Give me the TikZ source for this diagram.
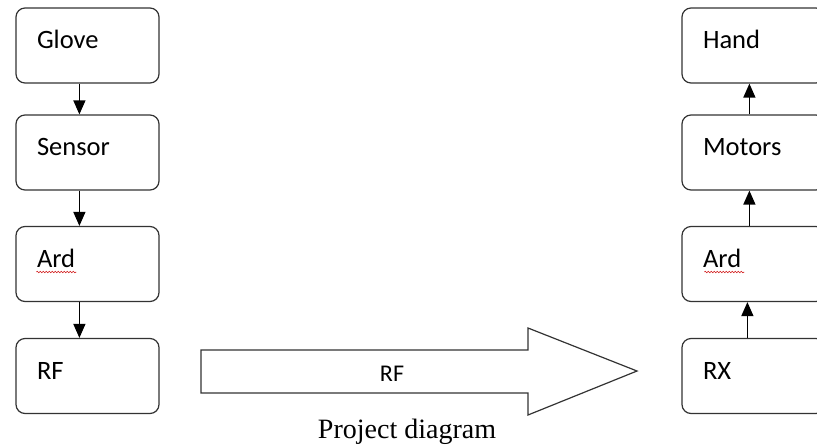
\documentclass[tikz,border=0pt]{standalone}
\usepackage{fontspec}
\setmainfont{Carlito}
\newfontfamily\capfont{Liberation Serif}
\usetikzlibrary{decorations.pathmorphing, arrows.meta}

\begin{document}
\begin{tikzpicture}[x=1pt, y=-1pt, >={Triangle[length=14pt,width=12pt]},
    block/.style={draw=black!80, line width=1.2pt, rounded corners=9pt,
      minimum width=143pt, minimum height=75pt, text width=101pt, inner xsep=21pt,
      align=left, text height=19pt, text depth=13pt, font=\fontsize{26.5}{30}\selectfont},
    flow/.style={->, line width=1.4pt},
    squig/.style={red!80!black, line width=0.5pt, decorate,
      decoration={snake, segment length=3pt, amplitude=0.8pt}}]
  \clip (0,0) rectangle (817,445);
  % transmitter side
  \node[block] (glove) at (87.5,45.5) {Glove};
  \node[block] (sensor) at (87.5,152.5) {Sensor};
  \node[block] (ardL) at (87.5,264) {Ard};
  \node[block] (rfL) at (87.5,376) {RF};
  \draw[flow] ([xshift=64pt]glove.south west) -- ([xshift=64pt]sensor.north west);
  \draw[flow] ([xshift=64pt]sensor.south west) -- ([xshift=64pt]ardL.north west);
  \draw[flow] ([xshift=64pt]ardL.south west) -- ([xshift=64pt]rfL.north west);
  \draw[squig] ([xshift=21pt,yshift=-8pt]ardL.west) -- ++(40,0);
  % receiver side
  \node[block] (hand) at (753.5,45.5) {Hand};
  \node[block] (motors) at (753.5,152.5) {Motors};
  \node[block] (ardR) at (753.5,264) {Ard};
  \node[block] (rx) at (753.5,376) {RX};
  \draw[flow] ([xshift=66pt]rx.north west) -- ([xshift=66pt]ardR.south west);
  \draw[flow] ([xshift=68pt]ardR.north west) -- ([xshift=68pt]motors.south west);
  \draw[flow] ([xshift=68pt]motors.north west) -- ([xshift=68pt]hand.south west);
  \draw[squig] ([xshift=23pt,yshift=-8pt]ardR.west) -- ++(40,0);
  % radio link
  \draw[black!80, line width=1.2pt] (201,350) -- (528,350) -- (528,328) -- (637,371)
    -- (528,415) -- (528,393) -- (201,393) -- cycle;
  \node[font=\fontsize{24}{28}\selectfont] (link) at (392,374) {RF};
  \node[anchor=base, inner sep=0pt, font=\capfont\fontsize{28}{32}\selectfont] (caption)
    at (407,438) {Project diagram};
\end{tikzpicture}
\end{document}
